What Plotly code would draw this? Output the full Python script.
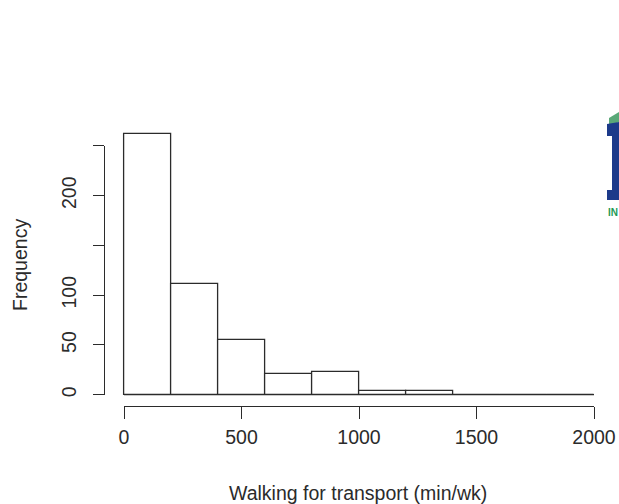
import plotly.graph_objects as go

# Histogram data (bin edges in min/wk, counts per bin)
bin_edges = [0, 200, 400, 600, 800, 1000, 1200, 1400, 1600, 1800, 2000]
counts = [262, 111, 55, 21, 23, 4, 4, 0, 0, 0]
x_ticks = [0, 500, 1000, 1500, 2000]
y_ticks = [0, 50, 100, 150, 200, 250]
y_tick_labels = ["0", "50", "100", "", "200", ""]

W, H = 619, 504
FONT = "Liberation Sans, Arial, sans-serif"
INK = "#2b2b2b"
LW = 1.3
FS = 19.5

def px_x(p):
    return p / W

def px_y(p):
    return 1 - p / H

centers = [(a + b) / 2 for a, b in zip(bin_edges[:-1], bin_edges[1:])]
widths = [b - a for a, b in zip(bin_edges[:-1], bin_edges[1:])]

# pixel geometry
x0_px, x1_px = 124, 594
x_unit = (x1_px - x0_px) / (bin_edges[-1] - bin_edges[0])  # px per min/wk
y0_px = 394.7
y_unit = 0.995  # px per count
top_px = 120
y_max = (y0_px - top_px) / y_unit
pad_x = 50   # data-units padding so edge strokes are not clipped
pad_y = 10

fig = go.Figure()
fig.add_trace(go.Bar(
    x=centers, y=counts, width=widths,
    marker=dict(color="white", line=dict(color=INK, width=LW)),
    hoverinfo="skip", showlegend=False,
))
# baseline under empty bins
fig.add_trace(go.Scatter(
    x=[bin_edges[0], bin_edges[-1]], y=[0, 0], mode="lines",
    line=dict(color=INK, width=LW), hoverinfo="skip", showlegend=False,
))
# invisible trace for the visible axes
fig.add_trace(go.Scatter(
    x=[bin_edges[0], bin_edges[-1]], y=[y_ticks[0], y_ticks[-1]],
    xaxis="x2", yaxis="y2",
    mode="markers", marker=dict(opacity=0), hoverinfo="skip", showlegend=False,
))

fig.update_layout(
    width=W, height=H,
    margin=dict(l=0, r=0, t=0, b=0, pad=0, autoexpand=False),
    paper_bgcolor="white", plot_bgcolor="rgba(0,0,0,0)",
    font=dict(family=FONT, size=FS, color=INK),
    bargap=0,
    # data axes (hidden)
    xaxis=dict(
        domain=[px_x(x0_px - pad_x * x_unit), px_x(x1_px + pad_x * x_unit)],
        range=[bin_edges[0] - pad_x, bin_edges[-1] + pad_x],
        visible=False, showgrid=False, zeroline=False,
    ),
    yaxis=dict(
        domain=[px_y(y0_px + pad_y * y_unit), px_y(top_px)], range=[-pad_y, y_max],
        visible=False, showgrid=False, zeroline=False,
    ),
    # visible axes (R style, offset from the bars)
    xaxis2=dict(
        domain=[px_x(x0_px), px_x(x1_px)], range=[bin_edges[0], bin_edges[-1]],
        anchor="free", position=px_y(405.7),
        showline=True, linecolor=INK, linewidth=LW,
        ticks="outside", ticklen=12, tickwidth=LW, tickcolor=INK,
        tickvals=x_ticks, ticktext=[str(v) for v in x_ticks],
        showgrid=False, zeroline=False, ticklabelstandoff=2, automargin=False,
    ),
    yaxis2=dict(
        domain=[px_y(y0_px), px_y(y0_px - y_ticks[-1] * y_unit)],
        range=[y_ticks[0], y_ticks[-1]],
        anchor="free", position=px_x(104.3), side="left",
        showline=True, linecolor=INK, linewidth=LW,
        ticks="outside", ticklen=11, tickwidth=LW, tickcolor=INK,
        tickvals=y_ticks, ticktext=y_tick_labels, tickangle=-90,
        showgrid=False, zeroline=False, ticklabelstandoff=9, automargin=False,
    ),
    annotations=[
        dict(text="Frequency", x=px_x(20), y=px_y(265), xref="paper", yref="paper",
             xanchor="center", yanchor="middle",
             textangle=-90, showarrow=False, font=dict(size=FS, color=INK)),
        dict(text="Walking for transport (min/wk)", x=px_x(358), y=px_y(493),
             xref="paper", yref="paper", xanchor="center", yanchor="middle",
             showarrow=False, font=dict(size=FS, color=INK)),
        dict(text="<b>IN</b>", x=px_x(606), y=px_y(212), xref="paper", yref="paper",
             xanchor="left", yanchor="middle", showarrow=False,
             font=dict(size=10, color="#1f9a55")),
    ],
    shapes=[
        # partial logo at the right edge
        dict(type="path", xref="paper", yref="paper",
             path=f"M {px_x(609)} {px_y(118)} L {px_x(619)} {px_y(112)} L {px_x(619)} {px_y(122)} L {px_x(609)} {px_y(126)} Z",
             fillcolor="#5aa878", line=dict(width=0)),
        dict(type="path", xref="paper", yref="paper",
             path=(f"M {px_x(607)} {px_y(124)} L {px_x(619)} {px_y(122)} L {px_x(619)} {px_y(200)} "
                   f"L {px_x(607)} {px_y(200)} L {px_x(607)} {px_y(190)} L {px_x(612)} {px_y(190)} "
                   f"L {px_x(612)} {px_y(136)} L {px_x(607)} {px_y(136)} Z"),
             fillcolor="#1c3a8a", line=dict(width=0)),
    ],
)

fig.write_html("out.html")
